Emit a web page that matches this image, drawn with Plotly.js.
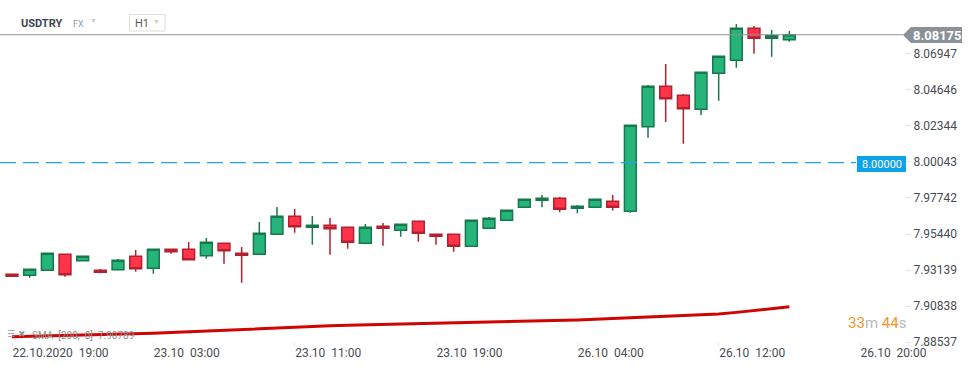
<!DOCTYPE html>
<html>
<head>
<meta charset="utf-8">
<script src="https://cdn.plot.ly/plotly-3.0.1.min.js"></script>
<style>html,body{margin:0;padding:0;background:#fff;}#chart{width:974px;height:368px;}</style>
</head>
<body>
<div id="chart"></div>
<script>
// ---- data (USDTRY H1) ----
const openP  = [7.92865,7.92801,7.93121,7.94143,7.93734,7.93121,7.93159,7.94016,7.93249,7.94463,7.94463,7.94054,7.94846,7.94207,7.94143,7.95422,7.96572,7.95869,7.95997,7.95869,7.94846,7.95933,7.95677,7.96253,7.95422,7.95422,7.94655,7.95805,7.96317,7.97148,7.97595,7.97723,7.97084,7.97148,7.97531,7.96892,8.02299,8.04882,8.04306,8.03411,8.05713,8.06543,8.08589,8.07950,8.07860];
const highP  = [7.92900,7.93185,7.94207,7.94143,7.94016,7.93204,7.93843,7.94418,7.94463,7.94463,7.94930,7.95185,7.94846,7.94610,7.96208,7.97167,7.97039,7.96591,7.96464,7.95869,7.96080,7.96144,7.96061,7.96253,7.95422,7.95422,7.96317,7.96528,7.96956,7.97659,7.97934,7.97806,7.97295,7.97659,7.97934,8.02389,8.04965,8.06307,8.04389,8.05776,8.06799,8.08864,8.08736,8.08480,8.08416];
const lowP   = [7.92720,7.92648,7.93121,7.92712,7.93734,7.92929,7.93159,7.93031,7.92903,7.94182,7.93798,7.93862,7.93543,7.92328,7.94143,7.95422,7.95524,7.94757,7.94118,7.94501,7.94783,7.94693,7.95268,7.94949,7.94757,7.94310,7.94655,7.95805,7.96317,7.97148,7.97148,7.96828,7.96764,7.97148,7.96943,7.96802,8.01596,8.02600,8.01213,8.03047,8.03961,8.06070,8.06965,8.06774,8.07732];
const closeP = [7.92737,7.93185,7.94207,7.92839,7.94016,7.92993,7.93760,7.93223,7.94463,7.94310,7.93798,7.94910,7.94373,7.94079,7.95486,7.96572,7.95908,7.95997,7.95780,7.94910,7.95869,7.95805,7.96061,7.95486,7.95294,7.94655,7.96317,7.96444,7.96956,7.97659,7.97723,7.97020,7.97211,7.97659,7.97148,8.02389,8.04882,8.04089,8.03450,8.05776,8.06799,8.08589,8.07950,8.08116,8.08175];
const sma200 = [7.88877,7.88900,7.88925,7.88950,7.88978,7.89000,7.89030,7.89062,7.89094,7.89140,7.89190,7.89240,7.89290,7.89340,7.89395,7.89455,7.89515,7.89548,7.89579,7.89600,7.89625,7.89650,7.89672,7.89695,7.89720,7.89742,7.89760,7.89800,7.89840,7.89860,7.89890,7.89918,7.89944,7.89985,7.90030,7.90075,7.90120,7.90165,7.90215,7.90270,7.90330,7.90430,7.90560,7.90680,7.90789];
const xTickIndex = [0, 8, 16, 24, 32, 40, 48];
const xTickLabels = ["22.10.2020\u00a0\u00a019:00","23.10\u00a0\u00a003:00","23.10\u00a0\u00a011:00","23.10\u00a0\u00a019:00","26.10\u00a0\u00a004:00","26.10\u00a0\u00a012:00","26.10\u00a0\u00a020:00"];
const yTickVals = [7.88537,7.90838,7.93139,7.95440,7.97742,8.00043,8.02344,8.04646,8.06947];
const lastPrice = 8.08175;
const levelPrice = 8.00000;
const smaLast = 7.90789;

const idx = openP.map((_, i) => i);

// ---- layout helpers (pixel -> paper) ----
const PW = 905, PH = 342;
const px = x => x / PW;
const py = y => 1 - y / PH;
const F = "Roboto, 'Open Sans', sans-serif";

const traces = [
  {type:'scatter', mode:'lines', x: idx, y: sma200, line:{color:'#d10404', width:3}, hoverinfo:'skip', showlegend:false},
  {type:'candlestick', x: idx, open: openP, high: highP, low: lowP, close: closeP,
   increasing:{line:{color:'#17784c', width:1.5}, fillcolor:'#26b47a'},
   decreasing:{line:{color:'#b3202f', width:1.5}, fillcolor:'#ff3449'},
   whiskerwidth:0, hoverinfo:'skip', showlegend:false}
];

const layout = {
  width:974, height:368, autosize:false,
  margin:{l:0, r:69, t:0, b:26, pad:0},
  paper_bgcolor:'#ffffff', plot_bgcolor:'#ffffff',
  showlegend:false, boxgap:0.33, boxgroupgap:0,
  font:{family:F, size:12, color:'#474c52'},
  xaxis:{range:[-12/17.667, 893/17.667], rangeslider:{visible:false}, showgrid:false, zeroline:false, showline:false,
         tickmode:'array', tickvals:xTickIndex, ticktext:xTickLabels, ticks:'outside', ticklen:3, tickcolor:'#e4e4e4',
         ticklabelposition:'outside right', tickfont:{family:F, size:12, color:'#474c52'}, fixedrange:true},
  yaxis:{side:'right', range:[7.88537, 7.88537 + 342/1564.5], showgrid:false, zeroline:false, showline:false,
         tickmode:'array', tickvals:yTickVals, ticktext:yTickVals.map(v => v.toFixed(5)), ticks:'outside', ticklen:5, tickcolor:'#e0e0e0',
         tickfont:{family:F, size:12, color:'#474c52'}, fixedrange:true},
  shapes:[
    {type:'line', xref:'paper', yref:'y', x0:0, x1:px(903), y0:lastPrice, y1:lastPrice, line:{color:'#8e9396', width:1}, layer:'above'},
    {type:'line', xref:'paper', yref:'y', x0:0, x1:px(856), y0:levelPrice, y1:levelPrice, line:{color:'#22a3e6', width:1.3, dash:'16px,7px'}, layer:'above'},
    {type:'path', xref:'paper', yref:'paper', path:`M ${px(903)} ${py(35)} L ${px(911)} ${py(27)} L ${px(962)} ${py(27)} L ${px(962)} ${py(43)} L ${px(911)} ${py(43)} Z`, fillcolor:'#8a9297', line:{width:0}, layer:'above'},
    {type:'rect', xref:'paper', yref:'paper', x0:px(857), x1:px(906), y0:py(156), y1:py(172), fillcolor:'#0ea2e8', line:{width:0}, layer:'above'},
    {type:'rect', xref:'paper', yref:'paper', x0:px(129.5), x1:px(165), y0:py(14.5), y1:py(31), fillcolor:'rgba(0,0,0,0)', line:{color:'#dedede', width:1}, layer:'above'}
  ],
  annotations:[
    {xref:'paper', yref:'paper', x:px(937), y:py(35), text:'<b>8.08175</b>', showarrow:false, xanchor:'center', yanchor:'middle', font:{family:F, size:13, color:'#ffffff'}},
    {xref:'paper', yref:'paper', x:px(881.5), y:py(164), text:'8.00000', showarrow:false, xanchor:'center', yanchor:'middle', font:{family:F, size:11, color:'#ffffff'}},
    {xref:'paper', yref:'paper', x:px(19), y:py(23), text:'<b>USDTRY</b>', showarrow:false, xanchor:'left', yanchor:'middle', font:{family:F, size:11, color:'#3b4650'}},
    {xref:'paper', yref:'paper', x:px(71), y:py(24), text:'FX', showarrow:false, xanchor:'left', yanchor:'middle', font:{family:F, size:9, color:'#8d9eae'}},
    {xref:'paper', yref:'paper', x:px(88), y:py(21), text:'▼', showarrow:false, xanchor:'left', yanchor:'middle', font:{family:F, size:7, color:'#c9cdd1'}},
    {xref:'paper', yref:'paper', x:px(133), y:py(23), text:'H1', showarrow:false, xanchor:'left', yanchor:'middle', font:{family:F, size:11, color:'#555c63'}},
    {xref:'paper', yref:'paper', x:px(150.5), y:py(22), text:'▼', showarrow:false, xanchor:'left', yanchor:'middle', font:{family:F, size:7, color:'#c9cdd1'}},
    {xref:'paper', yref:'paper', x:px(908), y:py(323), text:'<span style="color:#f7941d">33</span><span style="color:#b8b8b8">m</span> <span style="color:#f7941d">44</span><span style="color:#b8b8b8">s</span>', showarrow:false, xanchor:'right', yanchor:'middle', font:{family:F, size:15, color:'#f7941d'}},
    {xref:'paper', yref:'paper', x:px(5), y:py(334), text:'☰ ✖', showarrow:false, xanchor:'left', yanchor:'middle', font:{family:'DejaVu Sans', size:9, color:'#9a9a9a'}},
    {xref:'paper', yref:'paper', x:px(30), y:py(335), text:'SMA\u00a0\u00a0[200,\u00a0\u00a00]\u00a0\u00a0' + smaLast.toFixed(5), showarrow:false, xanchor:'left', yanchor:'middle', font:{family:F, size:10, color:'#8f8f8f'}}
  ]
};

Plotly.newPlot('chart', traces, layout, {staticPlot:true, displayModeBar:false});
</script>
</body>
</html>
